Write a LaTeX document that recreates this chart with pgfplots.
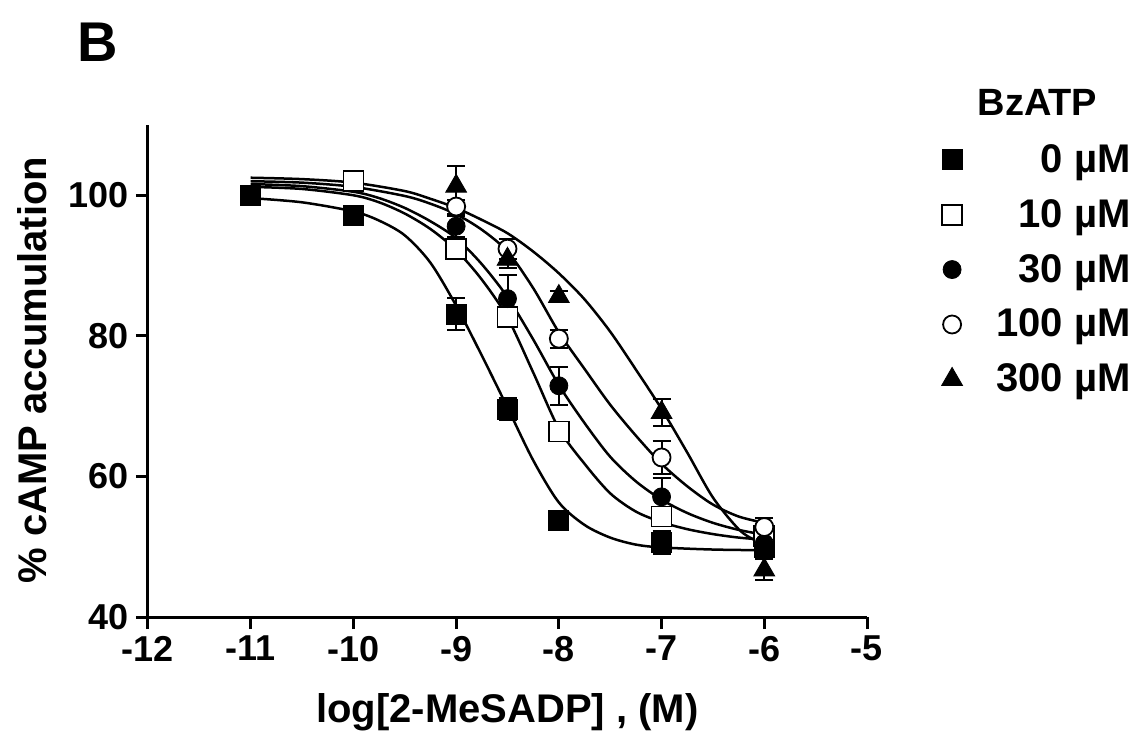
\documentclass[border=0pt]{standalone}
\usepackage{fontspec}
\setmainfont{Liberation Sans}
\usepackage{pgfplots}
\pgfplotsset{compat=1.18}

\pgfplotsset{
  curve/.style={black, line width=1.25pt, smooth, no marks, forget plot},
  errs/.style={only marks, mark=none, black, forget plot,
    error bars/y dir=both, error bars/y explicit,
    error bars/error bar style={line width=1pt, black, solid},
    error bars/error mark options={rotate=90, line width=1pt, mark size=4.5pt, black}},
}

\begin{document}
\begin{tikzpicture}
\useasboundingbox (-74pt,-64.5pt) rectangle (495pt,308.5pt);
\begin{axis}[
  at={(0,0)}, anchor=south west,
  scale only axis, width=359.5pt, height=246pt,
  xmin=-12, xmax=-5, ymin=40, ymax=110,
  axis lines=left,
  axis line style={line width=1.5pt, -},
  xtick={-12,-11,-10,-9,-8,-7,-6,-5},
  xticklabels={-12,-11,-10,-9,-8,-7,-6,-5},
  ytick={40,60,80,100},
  yticklabels={40,60,80,100},
  tick align=outside,
  major tick length=6pt,
  every tick/.style={black, line width=1.5pt},
  ticklabel style={font=\fontsize{18}{20}\selectfont\bfseries},
  clip=false,
  legend style={at={(axis description cs:1.095,0.978)}, anchor=north west,
    draw=none, fill=none, row sep=8pt, column sep=15pt,
    font=\fontsize{20}{22}\selectfont\bfseries},
  legend cell align=right,
  legend image code/.code={\draw[#1] plot coordinates {(0pt,0pt)};},
]
% fitted curves
\addplot[curve] coordinates {(-11,99.6)(-10.5,99.0)(-10,97.7)(-9.75,96.4)(-9.5,94.3)(-9.25,90.4)(-9,84.3)(-8.75,77.2)(-8.5,69.8)(-8.25,62.3)(-8,56.3)(-7.75,53.1)(-7.5,51.3)(-7.25,50.3)(-7,49.9)(-6.5,49.6)(-6,49.5)};
\addplot[curve] coordinates {(-11,101.2)(-10.5,100.9)(-10,100.0)(-9.75,99.0)(-9.5,97.4)(-9.25,95.2)(-9,92.2)(-8.75,88.0)(-8.5,82.6)(-8.25,74.8)(-8,66.8)(-7.75,61.8)(-7.5,57.6)(-7.25,55.0)(-7,53.5)(-6.75,52.5)(-6.5,51.8)(-6.25,51.3)(-6,51.0)};
\addplot[curve] coordinates {(-11,101.6)(-10.5,101.3)(-10,100.5)(-9.75,99.6)(-9.5,98.2)(-9.25,96.3)(-9,93.9)(-8.75,90.2)(-8.5,85.5)(-8.25,79.5)(-8,73.0)(-7.75,67.6)(-7.5,62.8)(-7.25,59.3)(-7,56.7)(-6.75,54.8)(-6.5,53.4)(-6.25,52.4)(-6,51.7)};
\addplot[curve] coordinates {(-11,102.0)(-10.5,101.8)(-10,101.2)(-9.5,99.9)(-9.25,98.8)(-9,97.3)(-8.75,95.1)(-8.5,92.0)(-8.25,86.8)(-8,80.5)(-7.75,75.3)(-7.5,70.2)(-7.25,65.8)(-7,61.8)(-6.75,58.6)(-6.5,56.0)(-6.25,54.3)(-6,53.4)};
\addplot[curve] coordinates {(-11,102.5)(-10.5,102.3)(-10,101.8)(-9.5,100.6)(-9.25,99.5)(-9,98.2)(-8.75,96.5)(-8.5,94.6)(-8.25,92.0)(-8,88.9)(-7.75,85.2)(-7.5,80.6)(-7.25,75.2)(-7,69.6)(-6.75,63.4)(-6.5,57.0)(-6.25,52.5)(-6.1,51.0)(-6,50.6)};

% error bars (mean +- SEM), drawn below the markers
\addplot[errs] coordinates {
  (-11,100) +- (0,0.5) (-10,97.1) +- (0,0.8) (-9,83.1) +- (0,2.3)
  (-8.5,69.6) +- (0,1.6) (-8,53.8) +- (0,0.5) (-7,50.6) +- (0,1.6) (-6,49.9) +- (0,1.5)};
\addplot[errs] coordinates {
  (-10,102) +- (0,0.6) (-9,92.4) +- (0,1.0) (-8.5,82.7) +- (0,0.8)
  (-8,66.4) +- (0,0.6) (-7,54.3) +- (0,1.0) (-6,51.5) +- (0,1.2)};
\addplot[errs] coordinates {
  (-9,95.6) +- (0,1.5) (-8.5,85.3) +- (0,3.3) (-8,72.9) +- (0,2.7)
  (-7,57.1) +- (0,2.7) (-6,50.5) +- (0,1.5)};
\addplot[errs] coordinates {
  (-9,98.4) +- (0,1.0) (-8.5,92.4) +- (0,1.4) (-8,79.6) +- (0,1.3)
  (-7,62.7) +- (0,2.3) (-6,52.8) +- (0,1.3)};
\addplot[errs] coordinates {
  (-9,101.3) +- (0,2.9) (-8.5,90.9) +- (0,1.2) (-8,85.6) +- (0,0.8)
  (-7,69.1) +- (0,1.9) (-6,46.7) +- (0,1.5)};

% means
\addplot[only marks, black, mark=square*, mark size=5pt] coordinates {
  (-11,100) (-10,97.1) (-9,83.1) (-8.5,69.6) (-8,53.8) (-7,50.6) (-6,49.9)};
\addlegendentry{0 µM}
\addplot[only marks, black, mark=square*, mark size=5pt, mark options={fill=white, line width=0.9pt}] coordinates {
  (-10,102) (-9,92.4) (-8.5,82.7) (-8,66.4) (-7,54.3) (-6,51.5)};
\addlegendentry{10 µM}
\addplot[only marks, black, mark=*, mark size=4.5pt] coordinates {
  (-9,95.6) (-8.5,85.3) (-8,72.9) (-7,57.1) (-6,50.5)};
\addlegendentry{30 µM}
\addplot[only marks, black, mark=*, mark size=4.5pt, mark options={fill=white, line width=0.9pt}] coordinates {
  (-9,98.4) (-8.5,92.4) (-8,79.6) (-7,62.7) (-6,52.8)};
\addlegendentry{100 µM}
\addplot[only marks, black, mark=triangle*, mark size=6pt] coordinates {
  (-9,101.3) (-8.5,90.9) (-8,85.6) (-7,69.1) (-6,46.7)};
\addlegendentry{300 µM}

\node[font=\fontsize{20}{22}\selectfont\bfseries] at (axis description cs:0.5,-0.193) {log[2-MeSADP] , (M)};
\node[rotate=90, font=\fontsize{20}{22}\selectfont\bfseries] at (axis description cs:-0.161,0.502) {\% cAMP accumulation};
\node[font=\fontsize{28}{30}\selectfont\bfseries] at (axis description cs:-0.07,1.169) {B};
\node[font=\fontsize{19}{21}\selectfont\bfseries] at (axis description cs:1.237,1.045) {BzATP};
\end{axis}
\end{tikzpicture}
\end{document}
